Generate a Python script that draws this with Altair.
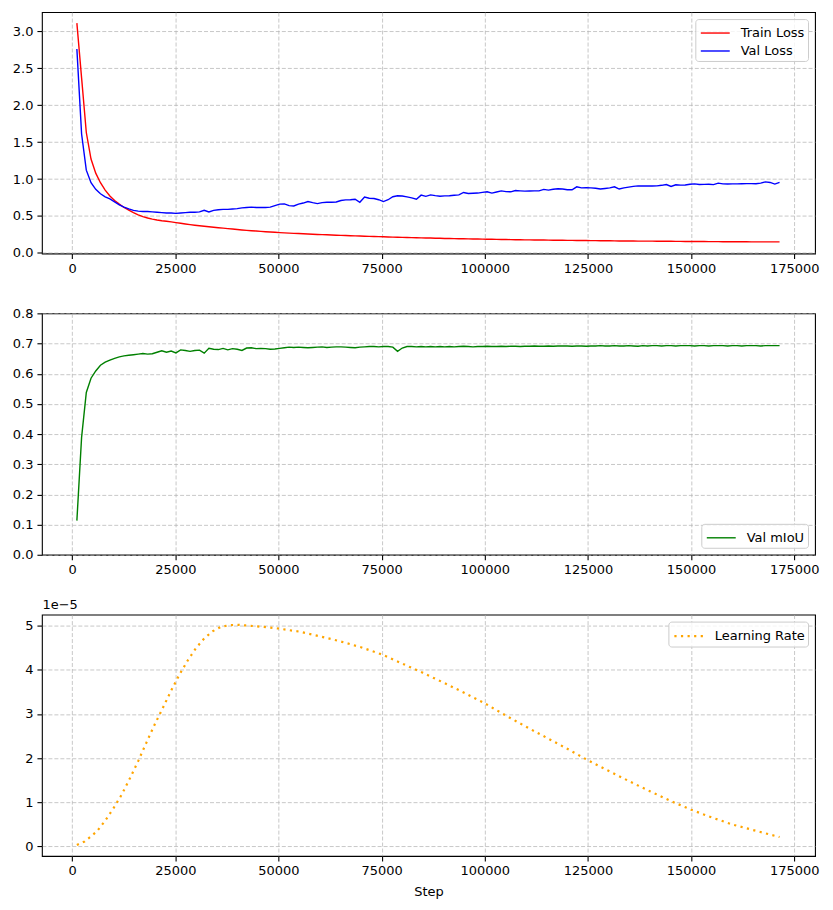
import altair as alt
import pandas as pd

# ---------------- data ----------------
STEP_PER_EPOCH = 1143
epochs = list(range(1, 151))

train_loss = [
    3.11, 2.37, 1.63, 1.27, 1.08, 0.95, 0.85, 0.77, 0.71, 0.66,
    0.615, 0.58, 0.545, 0.515, 0.49, 0.472, 0.458, 0.446, 0.436, 0.428,
    0.42, 0.41, 0.401, 0.392, 0.383, 0.375, 0.368, 0.361, 0.354, 0.347,
    0.341, 0.335, 0.329, 0.323, 0.317, 0.311, 0.305, 0.30, 0.296, 0.291,
    0.287, 0.283, 0.279, 0.275, 0.271, 0.268, 0.265, 0.262, 0.259, 0.256,
    0.253, 0.25, 0.247, 0.245, 0.242, 0.24, 0.237, 0.235, 0.232, 0.23,
    0.228, 0.226, 0.224, 0.222, 0.22, 0.218, 0.216, 0.214, 0.212, 0.21,
    0.209, 0.207, 0.205, 0.204, 0.202, 0.201, 0.199, 0.198, 0.196, 0.195,
    0.194, 0.192, 0.191, 0.19, 0.189, 0.188, 0.187, 0.185, 0.184, 0.183,
    0.182, 0.181, 0.18, 0.179, 0.178, 0.177, 0.176, 0.175, 0.175, 0.174,
    0.173, 0.172, 0.171, 0.171, 0.17, 0.169, 0.168, 0.168, 0.167, 0.166,
    0.166, 0.165, 0.164, 0.164, 0.163, 0.162, 0.162, 0.161, 0.161, 0.16,
    0.16, 0.159, 0.159, 0.158, 0.158, 0.157, 0.157, 0.156, 0.156, 0.155,
    0.155, 0.155, 0.154, 0.154, 0.153, 0.153, 0.153, 0.152, 0.152, 0.152,
    0.151, 0.151, 0.151, 0.15, 0.15, 0.15, 0.15, 0.149, 0.149, 0.149,
]

val_loss = [
    2.76, 1.61, 1.12, 0.95, 0.86, 0.80, 0.76, 0.73, 0.69, 0.65,
    0.62, 0.595, 0.575, 0.565, 0.56, 0.56, 0.555, 0.55, 0.545, 0.54,
    0.54, 0.535, 0.54, 0.545, 0.55, 0.55, 0.555, 0.577, 0.555, 0.575,
    0.585, 0.59, 0.59, 0.595, 0.60, 0.61, 0.615, 0.62, 0.615, 0.614,
    0.614, 0.62, 0.64, 0.66, 0.664, 0.64, 0.636, 0.66, 0.675, 0.695,
    0.68, 0.668, 0.68, 0.686, 0.686, 0.69, 0.709, 0.718, 0.72, 0.727,
    0.686, 0.755, 0.74, 0.736, 0.72, 0.695, 0.72, 0.76, 0.773, 0.77,
    0.758, 0.745, 0.727, 0.782, 0.765, 0.785, 0.775, 0.768, 0.772, 0.773,
    0.78, 0.786, 0.818, 0.805, 0.808, 0.81, 0.82, 0.827, 0.81, 0.825,
    0.84, 0.83, 0.827, 0.845, 0.84, 0.836, 0.838, 0.84, 0.84, 0.86,
    0.85, 0.862, 0.868, 0.865, 0.855, 0.855, 0.895, 0.88, 0.882, 0.88,
    0.875, 0.865, 0.872, 0.88, 0.895, 0.865, 0.88, 0.89, 0.9, 0.907,
    0.905, 0.905, 0.906, 0.908, 0.915, 0.926, 0.9, 0.922, 0.918, 0.92,
    0.93, 0.935, 0.926, 0.928, 0.93, 0.925, 0.945, 0.935, 0.933, 0.934,
    0.935, 0.936, 0.938, 0.938, 0.937, 0.945, 0.962, 0.954, 0.932, 0.955,
]

val_miou = [
    0.113, 0.389, 0.538, 0.585, 0.609, 0.628, 0.638, 0.645, 0.651, 0.656,
    0.659, 0.661, 0.663, 0.665, 0.667, 0.665, 0.666, 0.671, 0.676, 0.671,
    0.675, 0.669, 0.679, 0.677, 0.674, 0.677, 0.678, 0.668, 0.684, 0.681,
    0.68, 0.684, 0.679, 0.683, 0.681, 0.677, 0.685, 0.686, 0.683, 0.684,
    0.683, 0.681, 0.682, 0.684, 0.686, 0.688, 0.687, 0.688, 0.687, 0.686,
    0.687, 0.688, 0.689, 0.687, 0.688, 0.689, 0.689, 0.688, 0.687, 0.686,
    0.688, 0.689, 0.69, 0.69, 0.689, 0.69, 0.69, 0.688, 0.674, 0.685,
    0.69, 0.69, 0.689, 0.69, 0.689, 0.69, 0.689, 0.69, 0.689, 0.69,
    0.689, 0.69, 0.691, 0.69, 0.689, 0.69, 0.69, 0.691, 0.69, 0.69,
    0.691, 0.69, 0.691, 0.691, 0.69, 0.691, 0.691, 0.692, 0.691, 0.691,
    0.692, 0.691, 0.692, 0.692, 0.692, 0.691, 0.692, 0.692, 0.691, 0.692,
    0.692, 0.693, 0.692, 0.692, 0.693, 0.692, 0.692, 0.693, 0.692, 0.691,
    0.693, 0.692, 0.693, 0.693, 0.692, 0.693, 0.693, 0.692, 0.693, 0.693,
    0.693, 0.692, 0.693, 0.693, 0.692, 0.693, 0.693, 0.693, 0.692, 0.693,
    0.693, 0.692, 0.693, 0.693, 0.693, 0.692, 0.693, 0.693, 0.693, 0.693,
]

lr_steps = [
    1143, 3000, 4500, 6000, 8000, 10000, 12000, 14000, 16000, 18000,
    20000, 22000, 24000, 26000, 28000, 30000, 32000, 34000, 36000, 38000,
    40000, 42000, 44000, 46000, 48000, 50000, 55000, 60000, 65000, 70000,
    75000, 80000, 85000, 90000, 95000, 100000, 105000, 110000, 115000, 120000,
    125000, 130000, 135000, 140000, 145000, 150000, 155000, 160000, 165000, 171450,
]
lr_values = [
    0.03e-5, 0.11e-5, 0.22e-5, 0.34e-5, 0.58e-5, 0.86e-5, 1.17e-5, 1.54e-5, 1.93e-5, 2.35e-5,
    2.76e-5, 3.14e-5, 3.53e-5, 3.89e-5, 4.21e-5, 4.49e-5, 4.71e-5, 4.87e-5, 4.97e-5, 5.01e-5,
    5.02e-5, 5.005e-5, 4.99e-5, 4.975e-5, 4.955e-5, 4.935e-5, 4.865e-5, 4.76e-5, 4.645e-5, 4.51e-5,
    4.35e-5, 4.14e-5, 3.93e-5, 3.71e-5, 3.48e-5, 3.24e-5, 2.97e-5, 2.71e-5, 2.46e-5, 2.21e-5,
    1.95e-5, 1.71e-5, 1.475e-5, 1.25e-5, 1.03e-5, 0.83e-5, 0.655e-5, 0.495e-5, 0.37e-5, 0.21e-5,
]

x_ticks = [0, 25000, 50000, 75000, 100000, 125000, 150000, 175000]
loss_ticks = [0.0, 0.5, 1.0, 1.5, 2.0, 2.5, 3.0]
miou_ticks = [0.0, 0.1, 0.2, 0.3, 0.4, 0.5, 0.6, 0.7, 0.8]
lr_ticks = [0, 1, 2, 3, 4, 5]

# ---------------- tables ----------------
steps = [e * STEP_PER_EPOCH for e in epochs]
loss_df = pd.DataFrame({
    "Step": steps + steps,
    "value": train_loss + val_loss,
    "series": ["Train Loss"] * len(steps) + ["Val Loss"] * len(steps),
})
miou_df = pd.DataFrame({"Step": steps, "value": val_miou, "series": ["Val mIoU"] * len(steps)})
lr_df = pd.DataFrame({"Step": lr_steps, "lr": lr_values, "series": ["Learning Rate"] * len(lr_steps)})

W, H = 775, 242
FONT = "DejaVu Sans"
x_scale = alt.Scale(domain=[-7330, 180050], nice=False, zero=False)


def x_enc(title=None):
    if title:
        ax = alt.Axis(values=x_ticks, format="d", title=title, titlePadding=8,
                      labelFlush=False, labelOverlap=False)
    else:
        ax = alt.Axis(values=x_ticks, format="d", title=None,
                      labelFlush=False, labelOverlap=False)
    return alt.X("Step:Q", scale=x_scale, axis=ax)


def legend(orient, dash=None, sw=1.4):
    kw = dict(
        title=None, orient=orient, offset=7,
        symbolType="M-1.45,0L1.45,0", symbolSize=400, symbolOffset=6,
        symbolStrokeWidth=sw, labelOffset=14.5, padding=3, rowPadding=0,
        fillColor="rgba(255,255,255,0.8)", strokeColor="#cccccc",
        cornerRadius=3, labelFontSize=13, labelFont=FONT, labelColor="black",
    )
    if dash:
        kw["symbolDash"] = dash
    return alt.Legend(**kw)


loss_chart = alt.Chart(loss_df).mark_line(strokeWidth=1.4).encode(
    x=x_enc(),
    y=alt.Y("value:Q", scale=alt.Scale(domain=[-0.008, 3.26], nice=False, zero=False),
            axis=alt.Axis(values=loss_ticks, format=".1f", title=None)),
    color=alt.Color("series:N",
                    scale=alt.Scale(domain=["Train Loss", "Val Loss"], range=["#ff0000", "#0000ff"]),
                    legend=legend("top-right")),
).properties(width=W, height=H)

miou_chart = alt.Chart(miou_df).mark_line(strokeWidth=1.4).encode(
    x=x_enc(),
    y=alt.Y("value:Q", scale=alt.Scale(domain=[0, 0.8], nice=False, zero=False),
            axis=alt.Axis(values=miou_ticks, format=".1f", title=None)),
    color=alt.Color("series:N",
                    scale=alt.Scale(domain=["Val mIoU"], range=["#008000"]),
                    legend=legend("bottom-right")),
).properties(width=W, height=H)

lr_chart = alt.Chart(lr_df).transform_calculate(
    lr_scaled="datum.lr * 100000"
).mark_line(strokeWidth=2.2, strokeDash=[2.2, 4.4], strokeCap="butt").encode(
    x=x_enc("Step"),
    y=alt.Y("lr_scaled:Q", scale=alt.Scale(domain=[-0.22, 5.25], nice=False, zero=False),
            axis=alt.Axis(values=lr_ticks, format="d", title="1e\u22125", titleAngle=0,
                          titleAlign="left", titleBaseline="middle", titleX=0, titleY=-10)),
    color=alt.Color("series:N",
                    scale=alt.Scale(domain=["Learning Rate"], range=["#ffa500"]),
                    legend=legend("top-right", dash=[2.2, 4.4], sw=2.2)),
).properties(width=W, height=H)

chart = alt.vconcat(loss_chart, miou_chart, lr_chart, spacing=60, bounds="flush").resolve_scale(
    color="independent"
).properties(
    padding={"left": 3, "top": 2, "right": 5, "bottom": 5},
).configure_view(
    stroke="black", strokeWidth=1.1,
).configure_axis(
    labelFont=FONT, labelFontSize=13, labelColor="black",
    titleFont=FONT, titleFontSize=13, titleFontWeight="normal", titleColor="black",
    tickColor="black", tickSize=5, tickWidth=1.1, labelPadding=4,
    domain=False, grid=True, gridColor="#b0b0b0", gridOpacity=0.7,
    gridDash=[4, 2], gridWidth=1.0,
)

chart.save("out.html", embed_options={"renderer": "svg", "actions": False})
